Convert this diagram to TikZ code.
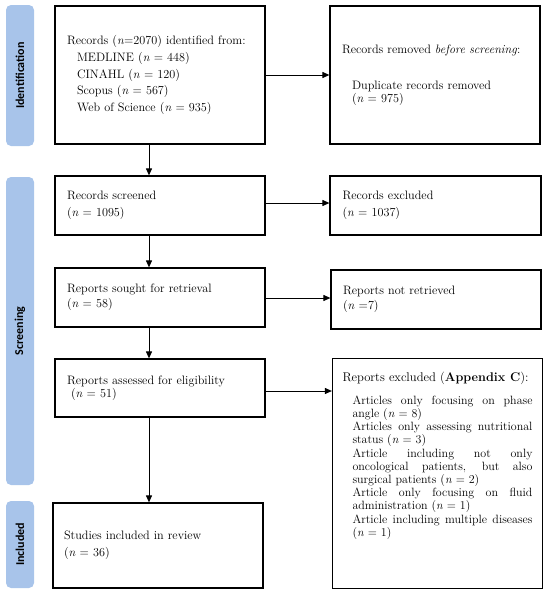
\documentclass[tikz,border=0pt]{standalone}
\usepackage{fontspec}
\newfontfamily\barfont{Carlito}
\usetikzlibrary{arrows.meta,calc}
\definecolor{barblue}{RGB}{168,196,234}
\newcommand{\mainfontcmd}{\fontsize{12.2}{16.7}\selectfont}
\begin{document}
\begin{tikzpicture}[x=1pt,y=-1pt,
  mainfont/.style={font=\mainfontcmd},
  box/.style={draw, line width=1.2pt, minimum width=210pt, inner xsep=12pt, inner ysep=0pt,
    align=left, text width=186pt, mainfont},
  bar/.style={fill=barblue, rounded corners=5pt, rotate=90, minimum height=28pt, inner sep=0pt,
    font=\barfont\bfseries\fontsize{12}{12}\selectfont},
  arr/.style={line width=1pt, -{Triangle[length=7pt,width=6pt]}}]
\useasboundingbox (0,0) rectangle (550,595);

% phase bars
\node[bar, minimum width=141pt] (idbar) at (20,75.5) {Identification};
\node[bar, minimum width=308pt] (scbar) at (20,331) {Screening};
\node[bar, minimum width=87pt]  (inbar) at (20,544.5) {Included};

% boxes
\node[box, minimum height=138pt] (b1) at (160,75) {Records (\textit{n}=2070) identified from:\\
\hspace*{10pt}MEDLINE (\textit{n} = 448)\\
\hspace*{10pt}CINAHL (\textit{n} = 120)\\
\hspace*{10pt}Scopus (\textit{n} = 567)\\
\hspace*{10pt}Web of Science (\textit{n} = 935)};

\node[box, minimum height=138pt] (b2) at (435,75) {Records removed \textit{before screening}:\\[19.3pt]
\hspace*{10pt}Duplicate records removed\\[-3.4pt]
\hspace*{10pt}(\textit{n} = 975)};

\node[box, minimum height=59pt] (b3) at (160,205.5) {Records screened\\(\textit{n} = 1095)};
\node[box, minimum height=59pt, minimum width=211pt] (b4) at (435.5,205.5) {Records excluded\\(\textit{n} = 1037)};

\node[box, minimum height=59pt] (b5) at (160,297.5) {Reports sought for retrieval\\[-1.7pt](\textit{n} = 58)};
\node[box, minimum height=59pt] (b6) at (436,299.5) {Reports not retrieved\\[-1.7pt](\textit{n} =7)};

\node[box, minimum height=58pt] (b7) at (160,388) {Reports assessed for eligibility\\[-3.4pt]\hspace*{4pt}(\textit{n} = 51)};

\node[draw, line width=1.2pt, inner xsep=10pt, inner ysep=13pt, anchor=north] (b8) at (437.5,358)
{\parbox[c][204pt][t]{190pt}{\fontsize{12.6}{16.7}\selectfont
Reports excluded (\textbf{Appendix C}):\par
\vspace{10pt}
{\leftskip=10pt \fontsize{12}{13.2}\selectfont
Articles only focusing on phase\linebreak angle (\textit{n} = 8)\par
Articles only assessing nutritional\linebreak status (\textit{n} = 3)\par
Article including not only\linebreak oncological patients, but also\linebreak surgical patients (\textit{n} = 2)\par
Article only focusing on fluid\linebreak administration (\textit{n} = 1)\par
Article including multiple diseases\linebreak (\textit{n} = 1)\par}}};

\node[box, minimum height=85pt, inner xsep=11pt, text width=188pt] (b9) at (158,545.5) {Studies included in review\\(\textit{n} = 36)};

% connectors
\coordinate (ax) at (149,0);
\draw[arr] (b1.south -| ax) -- (b3.north -| ax);
\draw[arr] (b3.south -| ax) -- (b5.north -| ax);
\draw[arr] (b5.south -| ax) -- (b7.north -| ax);
\draw[arr] (b7.south -| ax) -- (b9.north -| ax);

\coordinate (h1) at (0,75);
\coordinate (h3) at (0,203);
\coordinate (h5) at (0,298);
\coordinate (h7) at (0,391);
\draw[arr] (b1.east |- h1) -- (b2.west |- h1);
\draw[arr] (b3.east |- h3) -- (b4.west |- h3);
\draw[arr] (b5.east |- h5) -- (b6.west |- h5);
\draw[arr] (b7.east |- h7) -- (b8.west |- h7);
\end{tikzpicture}
\end{document}
